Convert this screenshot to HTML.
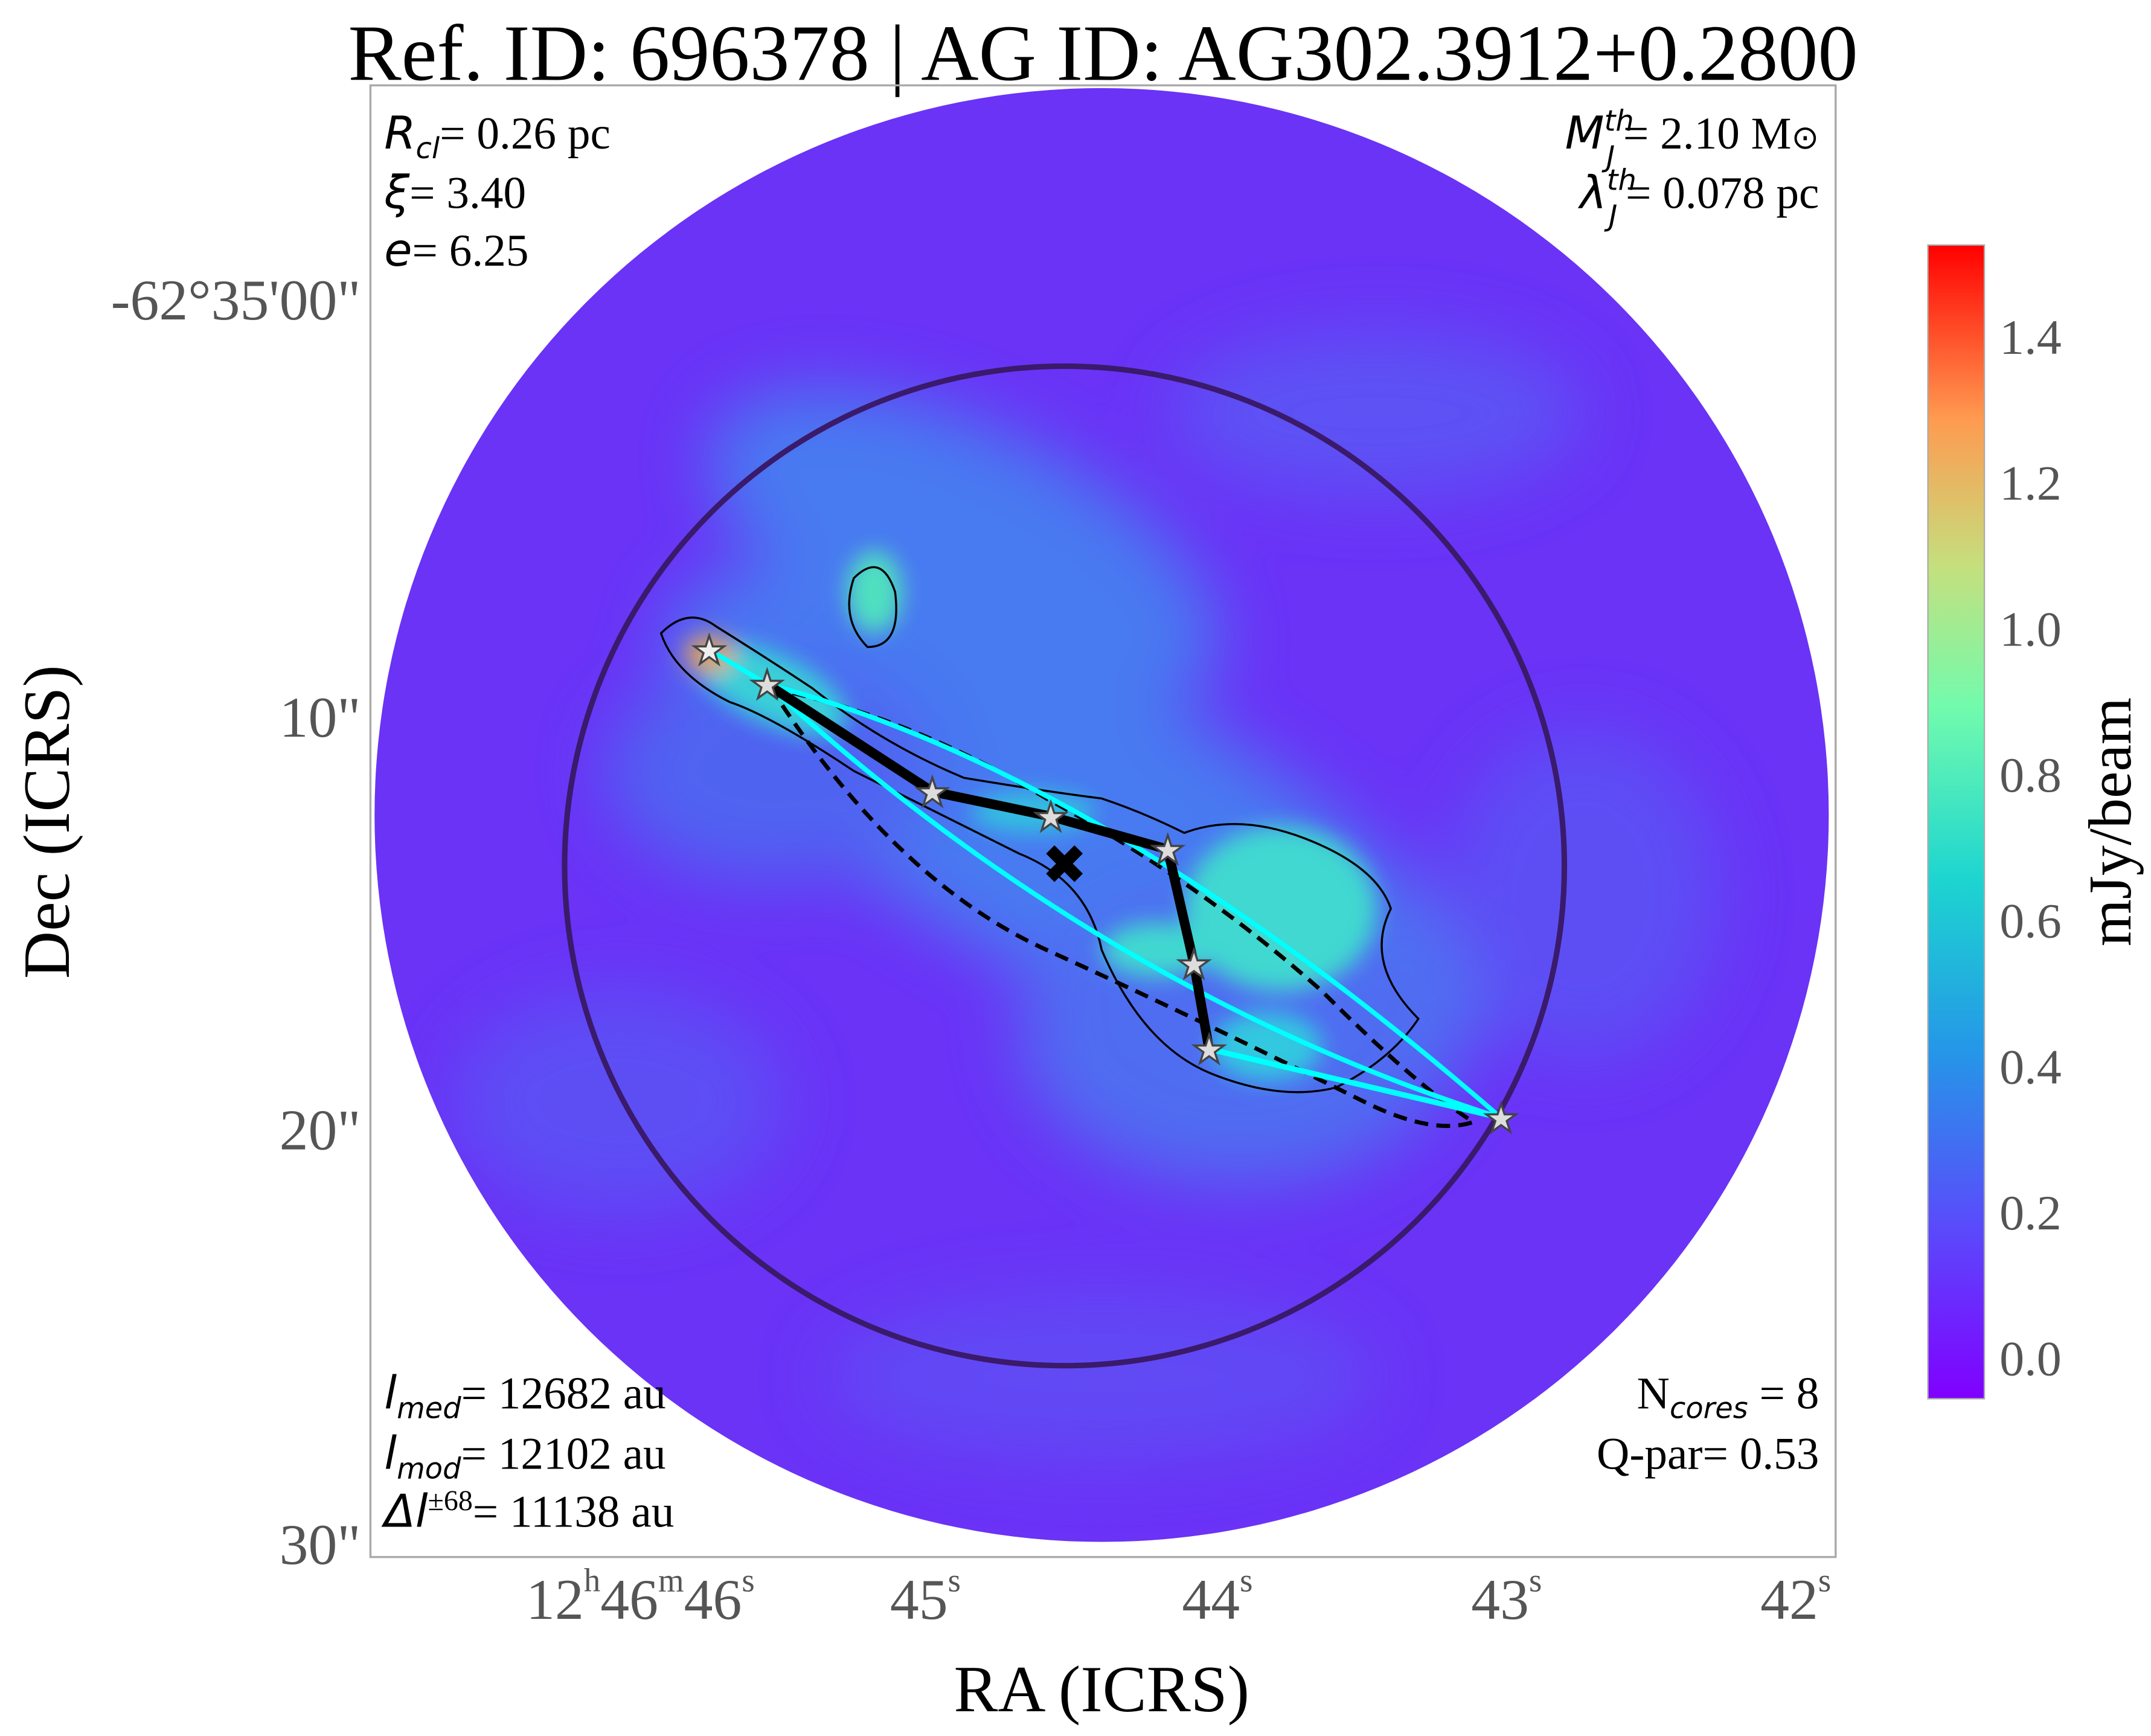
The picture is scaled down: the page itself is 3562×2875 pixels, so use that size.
<!DOCTYPE html>
<html><head><meta charset="utf-8"><style>html,body{margin:0;padding:0;background:#fff}svg{display:block}</style></head>
<body>
<svg width="3562" height="2875" viewBox="0 0 1562 1261" preserveAspectRatio="none" xmlns="http://www.w3.org/2000/svg" font-family="Liberation Serif, serif">
<defs>
<clipPath id="fr"><rect x="269" y="62" width="1064" height="1069"/></clipPath>
<clipPath id="disc"><circle cx="800" cy="592" r="528"/></clipPath>
<filter id="bl" x="-50%" y="-50%" width="200%" height="200%"><feGaussianBlur stdDeviation="25"/></filter>
<filter id="bl2" x="-50%" y="-50%" width="200%" height="200%"><feGaussianBlur stdDeviation="8"/></filter>
<linearGradient id="cb" x1="0" y1="1" x2="0" y2="0">
<stop offset="0" stop-color="#8000ff"/><stop offset="0.15" stop-color="#5a4bfb"/><stop offset="0.3" stop-color="#2596e8"/><stop offset="0.45" stop-color="#1dd5d0"/><stop offset="0.6" stop-color="#72fbad"/><stop offset="0.72" stop-color="#c4e07e"/><stop offset="0.85" stop-color="#ff9a50"/><stop offset="1" stop-color="#ff0000"/>
</linearGradient>
</defs>
<text x="801" y="58" font-size="58" text-anchor="middle">Ref. ID: 696378 | AG ID: AG302.3912+0.2800</text>
<g clip-path="url(#fr)">
<circle cx="800" cy="592" r="528" fill="#6a33f6"/>
<g clip-path="url(#disc)">
<g filter="url(#bl)" opacity="0.8">
<ellipse cx="700" cy="400" rx="200" ry="90" fill="#3f8cf0" transform="rotate(25 700 400)"/>
<ellipse cx="780" cy="600" rx="330" ry="110" fill="#3f8cf0" transform="rotate(28 780 600)"/>
<ellipse cx="900" cy="750" rx="160" ry="110" fill="#4a7cf0"/>
<ellipse cx="560" cy="560" rx="120" ry="80" fill="#4a70f0"/>
<ellipse cx="1000" cy="300" rx="150" ry="60" fill="#5a5af4"/>
<ellipse cx="450" cy="800" rx="120" ry="80" fill="#5a55f4"/>
<ellipse cx="1150" cy="650" rx="100" ry="120" fill="#5a55f4"/>
<ellipse cx="800" cy="1000" rx="200" ry="60" fill="#5e50f4"/>
</g>
<g filter="url(#bl2)">
<ellipse cx="560" cy="500" rx="60" ry="25" fill="#38d0d8" transform="rotate(25 560 500)"/>
<ellipse cx="635" cy="430" rx="20" ry="30" fill="#50e0c0"/>
<ellipse cx="750" cy="590" rx="45" ry="15" fill="#30c0e0"/>
<ellipse cx="930" cy="660" rx="70" ry="60" fill="#40d8d0"/>
<ellipse cx="840" cy="690" rx="40" ry="20" fill="#40d8d0"/>
<ellipse cx="920" cy="760" rx="40" ry="25" fill="#30c8e0"/>
<ellipse cx="515" cy="475" rx="18" ry="14" fill="#e0a060"/>
</g>
</g>
</g>
<rect x="269" y="62" width="1064" height="1069" fill="none" stroke="#aaa" stroke-width="1.5"/>
<circle cx="773" cy="629" r="363" fill="none" stroke="#3a1a6a" stroke-width="4"/>
<g fill="none" stroke="#000" stroke-width="1.5">
<path d="M480,460 Q500,440 520,455 Q560,480 590,500 Q640,540 700,565 Q760,575 800,580 Q830,590 860,605 Q900,590 950,610 Q1000,630 1010,660 Q990,700 1030,740 Q1010,770 970,790 Q930,800 880,780 Q830,760 800,690 Q790,640 740,620 Q680,590 620,560 Q560,520 530,510 Q490,490 480,460Z"/>
<path d="M620,420 Q640,400 650,430 Q655,470 630,470 Q610,450 620,420Z"/>
</g>
<path d="M560,500 Q660,520 760,580 Q870,640 960,720 Q1030,790 1070,815 Q1040,825 990,800 Q870,740 760,690 Q650,640 560,500" fill="none" stroke="#000" stroke-width="3" stroke-dasharray="10,6"/>
<path d="M515,472 L557,497 Q800,560 1090,812 Q800,720 557,497" fill="none" stroke="#00ffff" stroke-width="3.5"/>
<path d="M878,762 L1090,812" stroke="#00ffff" stroke-width="4"/>
<polyline points="557,497 677,575 763,593 848,617 867,700 878,762" fill="none" stroke="#000" stroke-width="7"/>
<g fill="#ddd" stroke="#444" stroke-width="1.5" font-size="28" text-anchor="middle">
<text x="515" y="482" fill="#eee">★</text><text x="557" y="507">★</text><text x="677" y="585">★</text><text x="763" y="603">★</text><text x="848" y="627">★</text><text x="867" y="710">★</text><text x="878" y="772">★</text><text x="1090" y="822">★</text>
</g>
<text x="773" y="642" font-size="40" text-anchor="middle" font-family="DejaVu Sans, sans-serif" font-weight="bold">✖</text>
<g font-size="33">
<text x="279" y="108"><tspan font-family="DejaVu Sans, sans-serif" font-style="italic">R</tspan><tspan font-size="21" dy="7" font-family="DejaVu Sans, sans-serif" font-style="italic">cl</tspan><tspan dy="-7">= 0.26 pc</tspan></text>
<text x="279" y="151"><tspan font-family="DejaVu Sans, sans-serif" font-style="italic">ξ</tspan>= 3.40</text>
<text x="279" y="193"><tspan font-family="DejaVu Sans, sans-serif" font-style="italic">e</tspan>= 6.25</text>
<text x="1321" y="108" text-anchor="end"><tspan font-family="DejaVu Sans, sans-serif" font-style="italic">M</tspan><tspan font-size="21" dy="-13" font-family="DejaVu Sans, sans-serif" font-style="italic">th</tspan><tspan font-size="21" dx="-20" dy="26" font-family="DejaVu Sans, sans-serif" font-style="italic">J</tspan><tspan dx="6" dy="-13">= 2.10 M</tspan><tspan font-size="24">⊙</tspan></text>
<text x="1321" y="151" text-anchor="end"><tspan font-family="DejaVu Sans, sans-serif" font-style="italic">λ</tspan><tspan font-size="21" dy="-13" font-family="DejaVu Sans, sans-serif" font-style="italic">th</tspan><tspan font-size="21" dx="-20" dy="26" font-family="DejaVu Sans, sans-serif" font-style="italic">J</tspan><tspan dx="6" dy="-13">= 0.078 pc</tspan></text>
<text x="279" y="1023"><tspan font-family="DejaVu Sans, sans-serif" font-style="italic">l</tspan><tspan font-size="21" dy="7" font-family="DejaVu Sans, sans-serif" font-style="italic">med</tspan><tspan dy="-7">= 12682 au</tspan></text>
<text x="279" y="1067"><tspan font-family="DejaVu Sans, sans-serif" font-style="italic">l</tspan><tspan font-size="21" dy="7" font-family="DejaVu Sans, sans-serif" font-style="italic">mod</tspan><tspan dy="-7">= 12102 au</tspan></text>
<text x="279" y="1109"><tspan font-family="DejaVu Sans, sans-serif" font-style="italic">Δl</tspan><tspan font-size="21" dy="-12">±68</tspan><tspan dy="12">= 11138 au</tspan></text>
<text x="1321" y="1023" text-anchor="end">N<tspan font-size="21" dy="7" font-family="DejaVu Sans, sans-serif" font-style="italic">cores</tspan><tspan dy="-7"> = 8</tspan></text>
<text x="1321" y="1067" text-anchor="end">Q-par= 0.53</text>
</g>
<g font-size="42" fill="#555" text-anchor="end">
<text x="262" y="232">-62°35'00"</text>
<text x="262" y="535">10"</text>
<text x="262" y="835">20"</text>
<text x="262" y="1136">30"</text>
</g>
<g font-size="42" fill="#555" text-anchor="middle">
<text x="465" y="1176">12<tspan font-size="24" dy="-20">h</tspan><tspan dy="20">46</tspan><tspan font-size="24" dy="-20">m</tspan><tspan dy="20">46</tspan><tspan font-size="24" dy="-20">s</tspan></text>
<text x="672" y="1176">45<tspan font-size="24" dy="-20">s</tspan></text>
<text x="884" y="1176">44<tspan font-size="24" dy="-20">s</tspan></text>
<text x="1094" y="1176">43<tspan font-size="24" dy="-20">s</tspan></text>
<text x="1304" y="1176">42<tspan font-size="24" dy="-20">s</tspan></text>
</g>
<text x="800" y="1243" font-size="48" text-anchor="middle">RA (ICRS)</text>
<text transform="translate(50 597) rotate(-90)" font-size="48" text-anchor="middle">Dec (ICRS)</text>
<rect x="1400" y="178" width="41" height="838" fill="url(#cb)" stroke="#aaa" stroke-width="1"/>
<g font-size="36" fill="#555">
<text x="1452" y="999">0.0</text><text x="1452" y="893">0.2</text><text x="1452" y="787">0.4</text><text x="1452" y="681">0.6</text><text x="1452" y="575">0.8</text><text x="1452" y="469">1.0</text><text x="1452" y="363">1.2</text><text x="1452" y="257">1.4</text>
</g>
<text transform="translate(1547 597) rotate(-90)" font-size="44" text-anchor="middle">mJy/beam</text>
</svg>
</body></html>
